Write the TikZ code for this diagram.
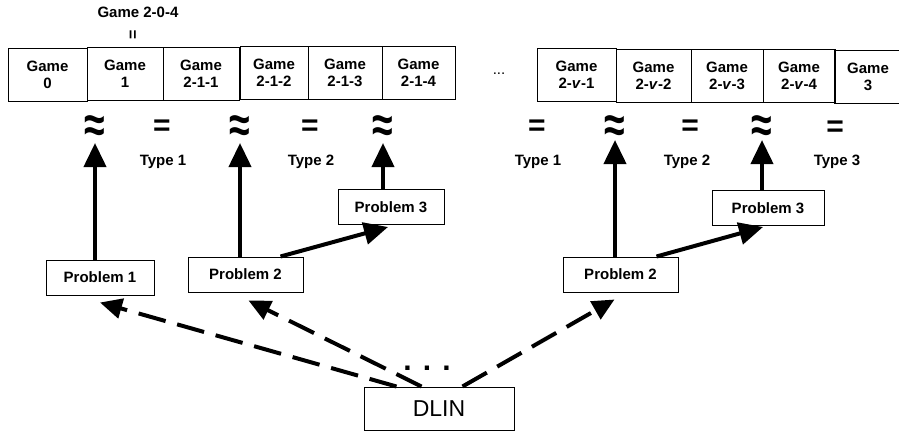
\documentclass[tikz,border=0pt]{standalone}
\usepackage{fontspec}
\setmainfont{Liberation Sans}
\usetikzlibrary{arrows.meta}
\newcommand{\bigapprox}{\scalebox{1.25}[1.7]{≈}}
\begin{document}
\begin{tikzpicture}[x=1pt,y=-1pt,
    game/.style={draw,line width=1pt,minimum height=53pt,inner sep=0pt,align=center,
      font=\bfseries\fontsize{15}{17}\selectfont},
    prob/.style={draw,line width=1pt,minimum height=35pt,inner sep=0pt,
      font=\bfseries\fontsize{15}{18}\selectfont},
    rel/.style={inner sep=0pt,font=\bfseries\fontsize{30}{30}\selectfont},
    typ/.style={inner sep=0pt,font=\bfseries\fontsize{15}{18}\selectfont},
    up/.style={line width=4pt,-{Triangle[length=24pt,width=22pt]}},
    red/.style={line width=4pt,dash pattern=on 28pt off 12pt,-{Triangle[length=22pt,width=20pt]}}]
  \useasboundingbox (0,0) rectangle (899,432);
  \draw
    (47.5,75) node[game,minimum width=79pt] (g0) {Game\\0}
    (125,74) node[game,minimum width=76pt] (g1) {Game\\1}
    (201,74) node[game,minimum width=76pt] (g211) {Game\\2-1-1}
    (274,73) node[game,minimum width=68pt] (g212) {Game\\2-1-2}
    (345,73) node[game,minimum width=74pt] (g213) {Game\\2-1-3}
    (418.5,73) node[game,minimum width=73pt] (g214) {Game\\2-1-4}
    (576.5,75) node[game,minimum width=79pt] (gv1) {Game\\2-\textit{v}-1}
    (653.5,76) node[game,minimum width=75pt] (gv2) {Game\\2-\textit{v}-2}
    (727,76) node[game,minimum width=72pt] (gv3) {Game\\2-\textit{v}-3}
    (799,76) node[game,minimum width=72pt] (gv4) {Game\\2-\textit{v}-4}
    (868,77) node[game,minimum width=68pt] (g3) {Game\\3};
  \draw
    (138,12) node[typ] (g204) {Game 2-0-4}
    (134,35) node[inner sep=0pt,font=\bfseries\fontsize{16}{16}\selectfont,rotate=90] (eq204) {=}
    (499,74) node[inner sep=0pt,font=\fontsize{15}{15}\selectfont] (gdots) {...};
  \draw
    (95,129) node[rel] (a1) {\bigapprox}
    (162,128) node[rel] (e1) {=}
    (240,129) node[rel] (a2) {\bigapprox}
    (310,128) node[rel] (e2) {=}
    (383,129) node[rel] (a3) {\bigapprox}
    (537,128) node[rel] (e3) {=}
    (615,129) node[rel] (a4) {\bigapprox}
    (690,128) node[rel] (e4) {=}
    (762,129) node[rel] (a5) {\bigapprox}
    (835,129) node[rel] (e5) {=};
  \draw
    (163,162) node[typ] (t1) {Type 1}
    (311,162) node[typ] (t2) {Type 2}
    (538,162) node[typ] (t3) {Type 1}
    (687,162) node[typ] (t4) {Type 2}
    (837,162) node[typ] (t5) {Type 3};
  \draw
    (100,277.5) node[prob,minimum width=108pt] (p1) {Problem 1}
    (245.5,274.5) node[prob,minimum width=115pt] (p2a) {Problem 2}
    (391,207) node[prob,minimum width=106pt] (p3a) {Problem 3}
    (620.5,274.5) node[prob,minimum width=115pt] (p2b) {Problem 2}
    (768,208) node[prob,minimum width=112pt] (p3b) {Problem 3}
    (439,408.5) node[draw,line width=1pt,minimum width=150pt,minimum height=43pt,
      font=\fontsize{23}{23}\selectfont] (dlin) {DLIN}
    (427,368) node[inner sep=0pt,font=\bfseries\fontsize{30}{30}\selectfont] (ddots) {. . .};
  \begin{scope}[up]
    \draw (p1.north -| a1) -- ([yshift=-14pt]a1.center);
    \draw (p2a.north -| a2) -- ([yshift=-14pt]a2.center);
    \draw (p3a.north -| a3) -- ([yshift=-14pt]a3.center);
    \draw (p2b.north -| a4) -- ([yshift=-11pt]a4.center);
    \draw (p3b.north -| a5) -- ([yshift=-11pt]a5.center);
    \draw ([xshift=35pt]p2a.north) -- ([xshift=-3pt,yshift=-2pt]p3a.south);
    \draw ([xshift=36pt]p2b.north) -- ([xshift=-5pt,yshift=-1pt]p3b.south);
  \end{scope}
  \begin{scope}[red]
    \draw ([xshift=33pt]dlin.north west) -- ([yshift=-7pt]p1.south);
    \draw ([xshift=58pt]dlin.north west) -- ([xshift=3pt,yshift=-8pt]p2a.south);
    \draw ([xshift=99pt]dlin.north west) -- ([xshift=-6pt,yshift=-7pt]p2b.south);
  \end{scope}
\end{tikzpicture}
\end{document}
